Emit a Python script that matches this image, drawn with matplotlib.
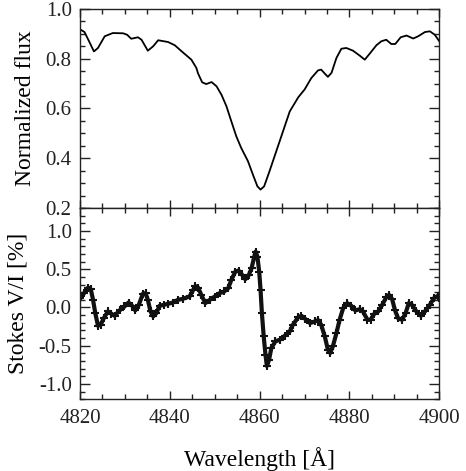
import matplotlib
matplotlib.use('Agg')
import matplotlib.pyplot as plt
from matplotlib.ticker import MultipleLocator, FormatStrFormatter

plt.rcParams.update({
    'font.family': 'serif',
    'font.serif': ['Liberation Serif', 'DejaVu Serif'],
    'axes.unicode_minus': False,
    'axes.linewidth': 1.0,
    'axes.edgecolor': '#222222',
})

# ── Data ──
# normalized flux profile
flux_wl = [4820.0, 4821.0, 4822.2, 4823.1, 4824.0, 4825.5, 4827.3, 4829.6, 4830.5, 4831.4,
           4832.9, 4833.7, 4835.1, 4836.3, 4837.4, 4839.6, 4841.1, 4842.6, 4844.8, 4845.9,
           4846.3, 4847.2, 4848.1, 4849.3, 4850.4, 4851.5, 4852.6, 4853.7, 4854.8, 4855.9,
           4857.4, 4858.5, 4859.5, 4860.2, 4861.0, 4862.2, 4863.7, 4865.2, 4866.7, 4868.6,
           4870.0, 4871.5, 4873.0, 4873.7, 4874.5, 4875.2, 4876.0, 4877.1, 4878.2, 4879.3,
           4880.8, 4882.3, 4883.4, 4884.5, 4886.0, 4887.1, 4888.2, 4889.3, 4890.2, 4891.4,
           4892.7, 4894.2, 4895.3, 4896.8, 4897.9, 4899.0, 4900.0]
flux = [0.918, 0.907, 0.863, 0.829, 0.843, 0.890, 0.903, 0.902, 0.896, 0.880,
        0.886, 0.876, 0.832, 0.850, 0.874, 0.867, 0.854, 0.830, 0.796, 0.763,
        0.740, 0.705, 0.698, 0.706, 0.689, 0.655, 0.609, 0.548, 0.488, 0.441,
        0.388, 0.334, 0.287, 0.274, 0.287, 0.348, 0.428, 0.508, 0.588, 0.645,
        0.676, 0.722, 0.753, 0.756, 0.740, 0.727, 0.743, 0.803, 0.840, 0.843,
        0.832, 0.812, 0.796, 0.820, 0.854, 0.870, 0.876, 0.859, 0.859, 0.886,
        0.893, 0.881, 0.890, 0.907, 0.910, 0.896, 0.870]

# Stokes V/I profile [%]
stokes_wl = [4820.1, 4820.9, 4821.8, 4822.4, 4822.9, 4823.4, 4824.0, 4824.6, 4825.3, 4826.2,
             4827.0, 4827.7, 4828.8, 4829.9, 4830.8, 4831.6, 4832.3, 4833.1, 4834.0, 4834.6,
             4835.1, 4835.7, 4836.3, 4837.0, 4837.7, 4838.7, 4839.6, 4840.7, 4841.8, 4842.9,
             4844.4, 4845.2, 4845.7, 4846.3, 4847.0, 4847.9, 4848.9, 4850.0, 4851.1, 4852.1,
             4853.0, 4853.7, 4854.6, 4855.3, 4856.1, 4856.8, 4857.6, 4858.2, 4858.8, 4859.1,
             4859.5, 4859.9, 4860.2, 4860.5, 4860.9, 4861.3, 4861.6, 4862.1, 4862.6, 4863.5,
             4864.5, 4865.6, 4866.7, 4867.4, 4868.6, 4869.3, 4870.2, 4871.2, 4872.3, 4873.0,
             4873.7, 4874.5, 4875.2, 4875.7, 4876.3, 4877.1, 4877.8, 4878.6, 4879.5, 4880.4,
             4881.3, 4882.3, 4883.0, 4884.0, 4884.7, 4885.5, 4886.4, 4887.3, 4888.2, 4888.8,
             4889.5, 4890.1, 4890.8, 4891.7, 4892.5, 4893.2, 4893.9, 4894.9, 4895.9, 4896.8,
             4897.9, 4898.8, 4899.7, 4900.0]
stokes = [0.121, 0.187, 0.261, 0.239, 0.100, -0.074, -0.239, -0.226, -0.139, -0.052,
          -0.082, -0.108, -0.039, 0.013, 0.065, 0.022, -0.039, 0.035, 0.179, 0.187,
          0.100, -0.052, -0.117, -0.074, 0.022, 0.035, 0.048, 0.065, 0.100, 0.113,
          0.144, 0.230, 0.280, 0.260, 0.165, 0.057, 0.100, 0.143, 0.187, 0.209,
          0.252, 0.361, 0.469, 0.482, 0.426, 0.369, 0.426, 0.513, 0.665, 0.730,
          0.665, 0.469, 0.230, -0.074, -0.378, -0.617, -0.765, -0.682, -0.530, -0.443,
          -0.421, -0.369, -0.313, -0.226, -0.126, -0.108, -0.152, -0.204, -0.183, -0.165,
          -0.226, -0.378, -0.552, -0.595, -0.508, -0.334, -0.161, -0.008, 0.057, 0.022,
          -0.039, -0.022, -0.052, -0.161, -0.161, -0.083, -0.052, 0.035, 0.135, 0.165,
          0.109, -0.030, -0.139, -0.161, -0.074, 0.057, 0.035, -0.052, -0.109, -0.052,
          0.035, 0.122, 0.152, 0.120]

fig = plt.figure(figsize=(4.66, 4.71), dpi=100)
ax1 = fig.add_axes([0.1717, 0.5584, 0.771, 0.4227])
ax2 = fig.add_axes([0.1717, 0.1522, 0.771, 0.4062], sharex=ax1)

ax1.plot(flux_wl, flux, '-', color='black', lw=1.3)
# thick band + crosses to mimic the densely sampled '+' symbols
ax2.plot(stokes_wl, stokes, '-', color='#111111', lw=3.0, solid_joinstyle='round')
ax2.plot(stokes_wl, stokes, ls='none', color='#111111',
         marker='+', ms=6, mew=1.5)

ax1.set_xlim(4820, 4900)
ax1.set_ylim(0.2, 1.0)
ax2.set_ylim(-1.2, 1.3)

ax1.yaxis.set_major_locator(MultipleLocator(0.2))
ax1.yaxis.set_minor_locator(MultipleLocator(0.05))
ax2.yaxis.set_major_locator(MultipleLocator(0.5))
ax2.yaxis.set_minor_locator(MultipleLocator(0.1))
ax2.xaxis.set_major_locator(MultipleLocator(20))
ax2.xaxis.set_minor_locator(MultipleLocator(5))
ax1.yaxis.set_major_formatter(FormatStrFormatter('%.1f'))
ax2.yaxis.set_major_formatter(FormatStrFormatter('%.1f'))

for ax in (ax1, ax2):
    ax.tick_params(which='both', direction='in', top=True, right=True,
                   labelsize=15, colors='#222222', width=1.0)
    ax.tick_params(axis='x', which='major', length=6, pad=7)
    ax.tick_params(axis='y', which='major', length=7.5, pad=6)
    ax.tick_params(which='minor', length=3.5)
ax1.tick_params(labelbottom=False)

ax1.set_ylabel('Normalized flux', fontsize=17, labelpad=7)
ax2.set_ylabel('Stokes V/I [%]', fontsize=17, labelpad=7)
ax2.set_xlabel('Wavelength [Å]', fontsize=17, labelpad=14)
fig.align_ylabels([ax1, ax2])

fig.savefig('out.png', dpi=100)
